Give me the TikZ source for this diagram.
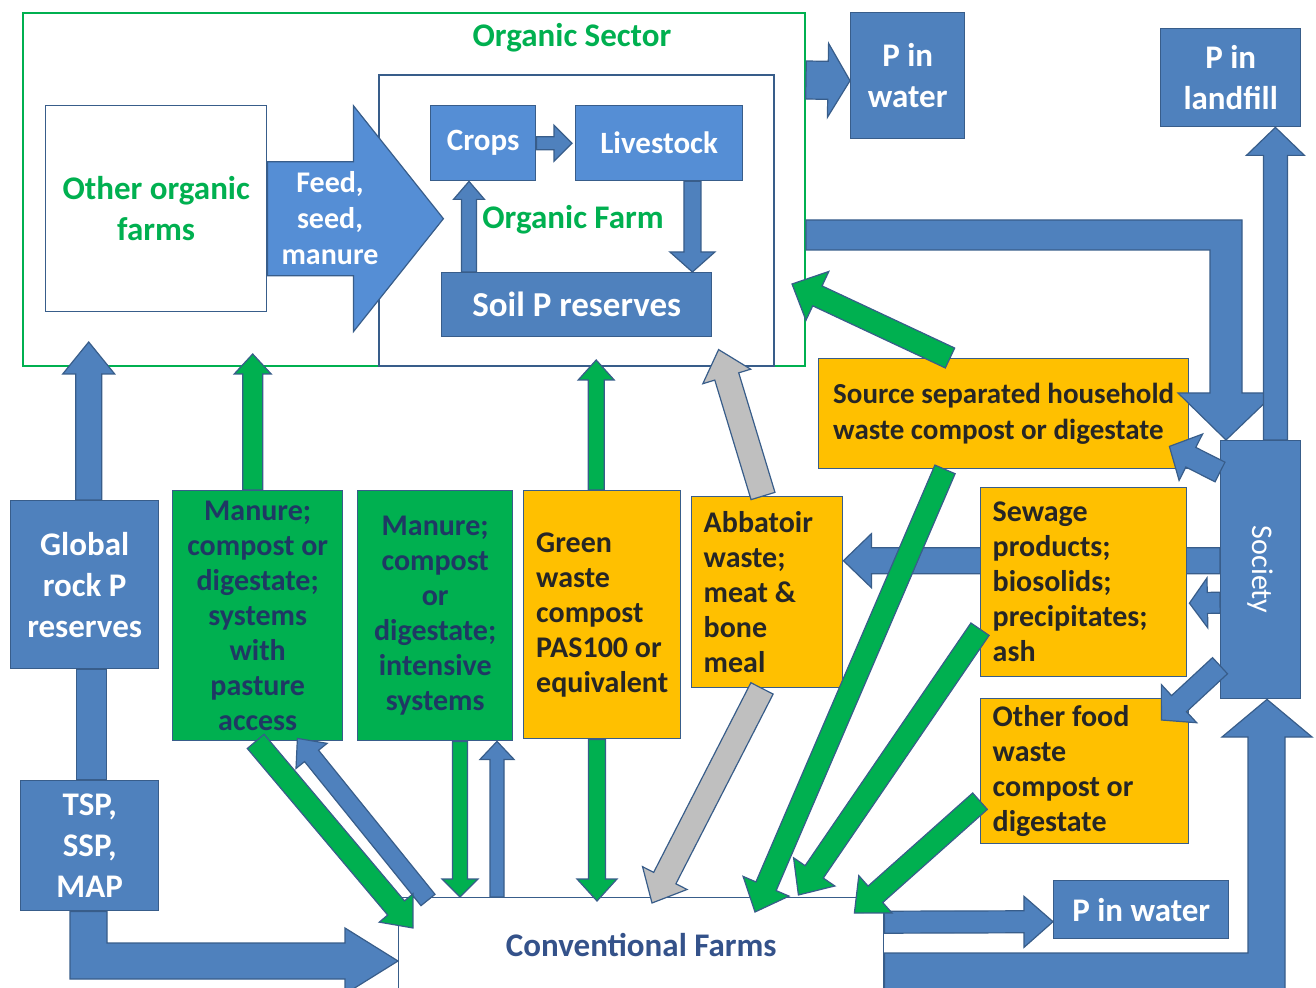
\documentclass[tikz,border=0pt]{standalone}
\usepackage{fontspec}
\setmainfont{Carlito}
\usetikzlibrary{calc}

\definecolor{pblue}{HTML}{4F81BD}
\definecolor{plight}{HTML}{558ED5}
\definecolor{pedge}{HTML}{385D8A}
\definecolor{pgreen}{HTML}{00B050}
\definecolor{porange}{HTML}{FFC000}
\definecolor{pgray}{HTML}{BFBFBF}
\definecolor{pnavy}{HTML}{1F3864}
\definecolor{darktxt}{HTML}{262626}
\definecolor{convtxt}{HTML}{34528A}

\tikzstyle{frame} = [rectangle, draw=pedge, line width=0.8pt, anchor=north west, inner sep=0pt]
\tikzstyle{box} = [rectangle, draw=pedge, line width=0.7pt, anchor=north west, inner sep=0pt, align=center, font=\fontsize{15}{17.5}\selectfont\bfseries]
\tikzstyle{bluebox} = [box, fill=pblue, text=white, font=\fontsize{16.5}{20.5}\selectfont\bfseries]
\tikzstyle{lightbox} = [box, fill=plight, text=white, font=\fontsize{15.5}{18}\selectfont\bfseries]
\tikzstyle{greenbox} = [box, fill=pgreen, text=pnavy]
\tikzstyle{orangebox} = [box, fill=porange, text=darktxt, align=flush left]
\tikzstyle{greentext} = [text=pgreen, align=center, font=\fontsize{16.5}{20.5}\selectfont\bfseries]
\tikzstyle{bluearr} = [fill=pblue, draw=pedge, line width=0.6pt]
\tikzstyle{lightarr} = [fill=plight, draw=pedge, line width=0.6pt]
\tikzstyle{greenarr} = [fill=pgreen, draw=pedge, line width=0.6pt]
\tikzstyle{grayarr} = [fill=pgray, draw=pedge, line width=0.6pt]

\pgfdeclarelayer{back}
\pgfsetlayers{back,main}

% block arrow: style, from, to, shaft width, head width, head length (all in px)
\newcommand{\blockarrow}[6]{%
  \pgfmathsetmacro{\bas}{#4/4}%
  \pgfmathsetmacro{\bah}{#5/4}%
  \pgfmathsetmacro{\bal}{#6/2}%
  \path[#1] let \p1=(#2), \p2=(#3), \n1={atan2(\y2-\y1,\x2-\x1)}, \n2={veclen(\x2-\x1,\y2-\y1)-\bal} in
    ($(\p1)+(\n1+90:\bas pt)$) -- ($(\p1)+(\n1:\n2)+(\n1+90:\bas pt)$) -- ($(\p1)+(\n1:\n2)+(\n1+90:\bah pt)$)
    -- (\p2) -- ($(\p1)+(\n1:\n2)+(\n1-90:\bah pt)$) -- ($(\p1)+(\n1:\n2)+(\n1-90:\bas pt)$) -- ($(\p1)+(\n1-90:\bas pt)$) -- cycle;
}

\begin{document}
\begin{tikzpicture}[x=0.5pt, y=-0.5pt]

            \useasboundingbox (0,0) rectangle (1316,988);

            %% Organic sector

            \node (sector) [frame, draw=pgreen, line width=1pt, minimum width=391pt, minimum height=176.5pt] at (22,12) {};
            \node (sectorlbl) [greentext] at (572,38) {Organic Sector};
            \node (farm) [frame, minimum width=197.5pt, minimum height=145.5pt] at (378,74) {};
            \node (others) [box, fill=white, text=pgreen, font=\fontsize{16.5}{20.5}\selectfont\bfseries, minimum width=110.5pt, minimum height=103pt] at (45,105) {Other organic\\farms};
            \node (crops) [lightbox, minimum width=52.5pt, minimum height=37.5pt] at (430,105) {Crops};
            \node (stock) [lightbox, minimum width=83.5pt, minimum height=37.5pt] at (575,105) {Livestock};
            \node (soil) [bluebox, font=\fontsize{17.5}{20}\selectfont\bfseries, minimum width=135pt, minimum height=32pt] at (441,272) {Soil P reserves};
            \node (farmlbl) [greentext] at (573,220) {Organic Farm};

            %% sinks and society

            \node (waterup) [bluebox, minimum width=57pt, minimum height=63pt] at (850,12) {P in\\water};
            \node (landfill) [bluebox, minimum width=70pt, minimum height=49pt] at (1160,28) {P in\\landfill};
            \node (society) [bluebox, minimum width=40pt, minimum height=129pt,
                label={[rotate=-90, text=white, font=\fontsize{15}{17}\selectfont]center:Society}] at (1220,440) {};
            \node (waterdn) [bluebox, minimum width=87.5pt, minimum height=29pt] at (1053,880) {P in water};

            %% recycled materials

            \node (source) [orangebox, font=\fontsize{14.5}{18}\selectfont\bfseries, minimum width=185pt, minimum height=55pt] at (818,358) {Source separated household\\waste compost or digestate};
            \node (sewage) [orangebox, inner xsep=6pt, text width=91pt, minimum height=94.5pt] at (980,487) {Sewage\\products;\\biosolids;\\precipitates;\\ash};
            \node (food) [orangebox, inner xsep=6pt, text width=92pt, minimum height=72.5pt] at (980,698) {Other food\\waste\\compost or\\digestate};
            \node (greenwaste) [orangebox, minimum width=78.5pt, minimum height=124pt] at (523,490) {Green\\waste\\compost\\PAS100 or\\equivalent};
            \node (abattoir) [orangebox, inner xsep=6pt, text width=63.5pt, minimum height=95.5pt] at (691,496) {Abbatoir\\waste;\\meat \&\\bone\\meal};
            \node (pasture) [greenbox, minimum width=85pt, minimum height=125pt] at (172,490) {Manure;\\compost or\\digestate;\\systems\\with\\pasture\\access};
            \node (intensive) [greenbox, minimum width=77.5pt, minimum height=125pt] at (357,490) {Manure;\\compost\\or\\digestate;\\intensive\\systems};

            %% rock P and conventional farms

            \node (rock) [bluebox, minimum width=74pt, minimum height=84pt] at (10,500) {Global\\rock P\\reserves};
            \node (tsp) [bluebox, minimum width=69pt, minimum height=65pt] at (20,780) {TSP,\\SSP,\\MAP};
            \node (conv) [box, fill=white, text=convtxt, font=\fontsize{16.5}{20}\selectfont\bfseries, minimum width=242.5pt, minimum height=47.5pt] at (398,897) {Conventional Farms};

            \begin{pgfonlayer}{back}
                \coordinate (abbaline) at ($(society.west)+(0,-9)$);
                \blockarrow{bluearr}{abbaline}{abattoir.east |- abbaline}{26}{54}{28}
                \path[bluearr] ($(rock.south)+(-8,0)$) rectangle ($(tsp.north)+(17,0)$);
            \end{pgfonlayer}

            %% flows inside the organic sector

            \blockarrow{lightarr}{$(others.east)+(0,10)$}{$(others.east)+(176,10)$}{114}{226}{90}
            \node (feedlbl) [text=white, align=center, font=\fontsize{15}{18}\selectfont\bfseries] at (330,218) {Feed,\\seed,\\manure};
            \blockarrow{bluearr}{crops.east}{$(stock.west)+(-3,0)$}{13}{36}{18}
            \blockarrow{bluearr}{$(stock.south east)+(-51,0)$}{$(soil.north east)+(-20,0)$}{17}{45}{20}
            \blockarrow{bluearr}{$(soil.north west)+(28,0)$}{$(crops.south west)+(39,0)$}{15}{31}{18}

            %% blue flows

            \blockarrow{bluearr}{$(sector.north east)+(0,68)$}{$(waterup.west)+(0,5)$}{38}{74}{22}
            \path[bluearr] (sector.east |- 0,220) -- (1242,220) -- (1242,393) -- (1275,393) -- (society.north -| 1226,0)
                -- (1178,393) -- (1210,393) -- (1210,250) -- (sector.east |- 0,250) -- cycle;
            \blockarrow{bluearr}{$(society.north east)+(-26,0)$}{$(landfill.south east)+(-26,0)$}{24}{58}{28}
            \blockarrow{bluearr}{$(society.north west)+(0,32)$}{$(source.south east)+(-20,-23)$}{22}{52}{24}
            \blockarrow{bluearr}{$(society.west)+(0,33)$}{$(sewage.east)+(2,21)$}{21}{50}{18}
            \blockarrow{bluearr}{$(society.west)+(0,96)$}{$(food.north east)+(-28,22)$}{22}{52}{24}
            \blockarrow{bluearr}{$(rock.north)+(4,0)$}{$(rock.north |- sector.south)+(4,-25)$}{26}{52}{32}
            \path[bluearr] (tsp.south -| 70,0) -- (70,979) -- (345,979) -- (345,994) -- (conv.west |- 0,961)
                -- (345,928) -- (345,943) -- (107,943) -- (tsp.south -| 107,0) -- cycle;
            \blockarrow{bluearr}{$(conv.north west)+(30,3)$}{$(pasture.south east)+(-46,-3)$}{18}{40}{22}
            \blockarrow{bluearr}{$(conv.north west)+(99,0)$}{$(intensive.south west)+(140,0)$}{14}{34}{18}
            \blockarrow{bluearr}{$(conv.east)+(0,-23)$}{$(waterdn.west)+(0,12)$}{22}{51}{29}
            \path[bluearr] (conv.east |- 0,953) -- (1248,953) -- (1248,737) -- (1222,737) -- (society.south -| 1267,0)
                -- (1312,737) -- (1285,737) -- (1285,992) -- (conv.east |- 0,992) -- cycle;

            %% green and grey flows

            \blockarrow{greenarr}{$(pasture.north)+(-5,0)$}{$(pasture.north |- sector.south)+(-5,-13)$}{20}{37}{20}
            \blockarrow{greenarr}{$(greenwaste.north)+(-6,0)$}{$(greenwaste.north |- sector.south)+(-6,-7)$}{16}{36}{20}
            \blockarrow{greenarr}{$(source.north west)+(132,0)$}{$(sector.south east)+(-14,-83)$}{22}{54}{28}
            \blockarrow{greenarr}{$(pasture.south)+(-2,0)$}{$(conv.north west)+(15,31)$}{22}{44}{26}
            \blockarrow{greenarr}{$(intensive.south west)+(103,0)$}{$(conv.north west)+(62,0)$}{15}{36}{18}
            \blockarrow{greenarr}{$(greenwaste.south west)+(74,0)$}{$(conv.north west)+(199,4)$}{17}{40}{22}
            \blockarrow{greenarr}{$(source.south west)+(127,0)$}{$(conv.north west)+(357,15)$}{22}{50}{28}
            \blockarrow{greenarr}{$(sewage.west)+(0,47)$}{$(conv.north east)+(-86,-2)$}{22}{50}{28}
            \blockarrow{greenarr}{$(food.west)+(0,30)$}{$(conv.north east)+(-30,16)$}{22}{50}{28}
            \blockarrow{grayarr}{$(abattoir.north west)+(72,0)$}{$(farm.south east)+(-56,-17)$}{25}{50}{28}
            \blockarrow{grayarr}{$(abattoir.south west)+(71,0)$}{$(conv.north west)+(254,6)$}{25}{50}{28}

        \end{tikzpicture}
\end{document}
